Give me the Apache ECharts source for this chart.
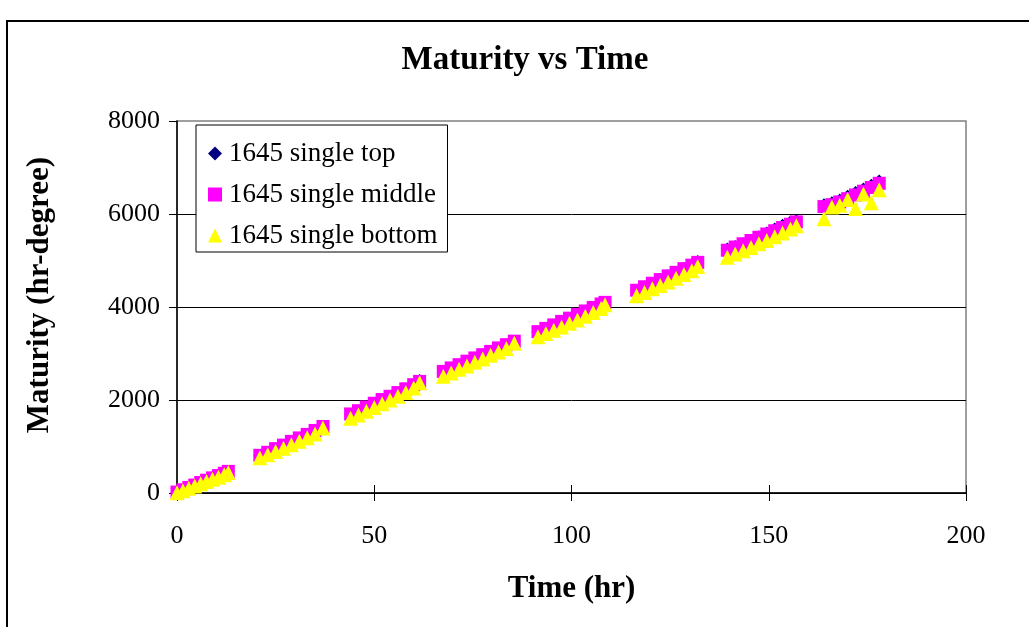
<!DOCTYPE html>
<html>
<head>
<meta charset="utf-8">
<script src="https://cdn.jsdelivr.net/npm/echarts@6/dist/echarts.min.js"></script>
<style>html,body{margin:0;padding:0;background:#fff}#c{width:1029px;height:627px}</style>
</head>
<body>
<div id="c"></div>
<script>
const hours = [0,1.5,3,4.5,6,7.5,9,10.5,12,13,
 21,23,25,27,29,31,33,35,37,
 44,46,48,50,52,54,56,58,60,61.5,
 67.5,69.5,71.5,73.5,75.5,77.5,79.5,81.5,83.5,85.5,
 91.5,93.5,95.5,97.5,99.5,101.5,103.5,105.5,107.5,108.5,
 116.5,118.5,120.5,122.5,124.5,126.5,128.5,130.5,132,
 139.5,141.5,143.5,145.5,147.5,149.5,151.5,153.5,155.5,157,
 164,166,168,170,172,174,176,178];
const topVals = [10,60,110,160,215,265,315,365,415,455,
 800,865,945,1020,1100,1175,1255,1350,1425,
 1690,1760,1840,1920,2000,2070,2150,2235,2330,2420,
 2605,2680,2750,2825,2895,2965,3035,3110,3185,3260,
 3460,3530,3605,3680,3750,3830,3905,3985,4060,4095,
 4355,4430,4505,4585,4665,4745,4830,4910,4980,
 5250,5300,5360,5430,5510,5590,5680,5760,5830,5860,
 6200,6240,6300,6380,6460,6540,6620,6710];
const middleVals = [20,70,120,170,225,275,325,375,425,465,
 810,875,955,1030,1110,1185,1260,1345,1430,
 1700,1770,1850,1930,2010,2080,2160,2240,2330,2400,
 2615,2690,2760,2835,2905,2975,3045,3120,3190,3265,
 3470,3540,3615,3690,3760,3840,3915,3990,4065,4100,
 4360,4435,4510,4590,4670,4745,4825,4900,4960,
 5220,5290,5360,5430,5500,5570,5640,5710,5780,5830,
 6160,6200,6260,6330,6410,6490,6570,6660];
const bottomVals = [5,50,100,150,200,245,295,340,390,440,
 760,820,895,965,1040,1115,1190,1270,1400,
 1610,1680,1760,1840,1920,2000,2080,2160,2260,2370,
 2510,2580,2660,2730,2810,2880,2960,3030,3110,3220,
 3360,3430,3500,3570,3650,3720,3800,3880,3970,4050,
 4240,4310,4390,4460,4540,4620,4700,4780,4870,
 5070,5140,5210,5280,5360,5430,5510,5590,5680,5750,
 5900,6150,6190,6310,6120,6430,6240,6520];
const seriesNames = ['1645 single top','1645 single middle','1645 single bottom'];
const xTicks = [0,50,100,150,200];
const yTicks = [0,2000,4000,6000,8000];

const pair = vals => hours.map((h,i)=>[h, vals[i]]);
const F = 'Liberation Serif, Times New Roman, serif';

const chart = echarts.init(document.getElementById('c'), null, {renderer:'canvas'});
chart.setOption({
  backgroundColor:'#fff',
  animation:false,
  title:{text:'Maturity vs Time', left:520, top:39, textAlign:'center',
    textStyle:{fontFamily:F, fontSize:33, fontWeight:'bold', color:'#000'}},
  graphic:[{type:'rect', shape:{x:7, y:21, width:1100, height:700},
    style:{fill:'none', stroke:'#000', lineWidth:2}, silent:true, z:-1}],
  legend:{orient:'vertical', left:196, top:125,
    data:[{name:seriesNames[0], icon:'diamond'},{name:seriesNames[1], icon:'rect'},{name:seriesNames[2], icon:'triangle'}],
    itemWidth:14, itemHeight:14, itemGap:14,
    padding:[15,10,3,12], borderColor:'#000', borderWidth:1, backgroundColor:'#fff',
    textStyle:{fontFamily:F, fontSize:27, color:'#000', padding:[0,0,0,2]}},
  grid:{left:177, top:121, right:63, bottom:134, show:true, borderColor:'#808080', borderWidth:1.5, backgroundColor:'transparent'},
  xAxis:[{type:'value', min:xTicks[0], max:xTicks[xTicks.length-1], interval:50,
    name:'Time (hr)', nameLocation:'middle', nameGap:80,
    nameTextStyle:{fontFamily:F, fontSize:31, fontWeight:'bold', color:'#000'},
    axisLine:{lineStyle:{color:'#000', width:1.5}},
    axisTick:{length:8, lineStyle:{color:'#000'}},
    axisLabel:{margin:30, fontFamily:F, fontSize:26, color:'#000'},
    splitLine:{show:false}},
   {type:'value', min:xTicks[0], max:xTicks[xTicks.length-1], interval:50, position:'bottom',
    axisLine:{show:false}, axisTick:{inside:true, length:8, lineStyle:{color:'#000'}},
    axisLabel:{show:false}, splitLine:{show:false}}],
  yAxis:{type:'value', min:yTicks[0], max:yTicks[yTicks.length-1], interval:2000,
    name:'Maturity (hr-degree)', nameLocation:'middle', nameGap:122,
    nameTextStyle:{fontFamily:F, fontSize:31, fontWeight:'bold', color:'#000', padding:[0,0,0,24]},
    axisLine:{show:true, lineStyle:{color:'#000', width:1.5}},
    axisTick:{show:true, length:8, lineStyle:{color:'#000'}},
    axisLabel:{margin:17, fontFamily:F, fontSize:26, color:'#000', formatter: v => String(v)},
    splitLine:{show:true, showMaxLine:false, lineStyle:{color:'#000', width:1}}},
  series:[
    {name:seriesNames[0], type:'scatter', symbol:'diamond', symbolSize:13, data:pair(topVals), itemStyle:{color:'#000080', opacity:1}},
    {name:seriesNames[1], type:'scatter', symbol:'rect', symbolSize:13, data:pair(middleVals), itemStyle:{color:'#FF00FF', opacity:1}},
    {name:seriesNames[2], type:'scatter', symbol:'triangle', symbolSize:15, data:pair(bottomVals), itemStyle:{color:'#FFFF00', opacity:1}}
  ]
});
</script>
</body>
</html>
